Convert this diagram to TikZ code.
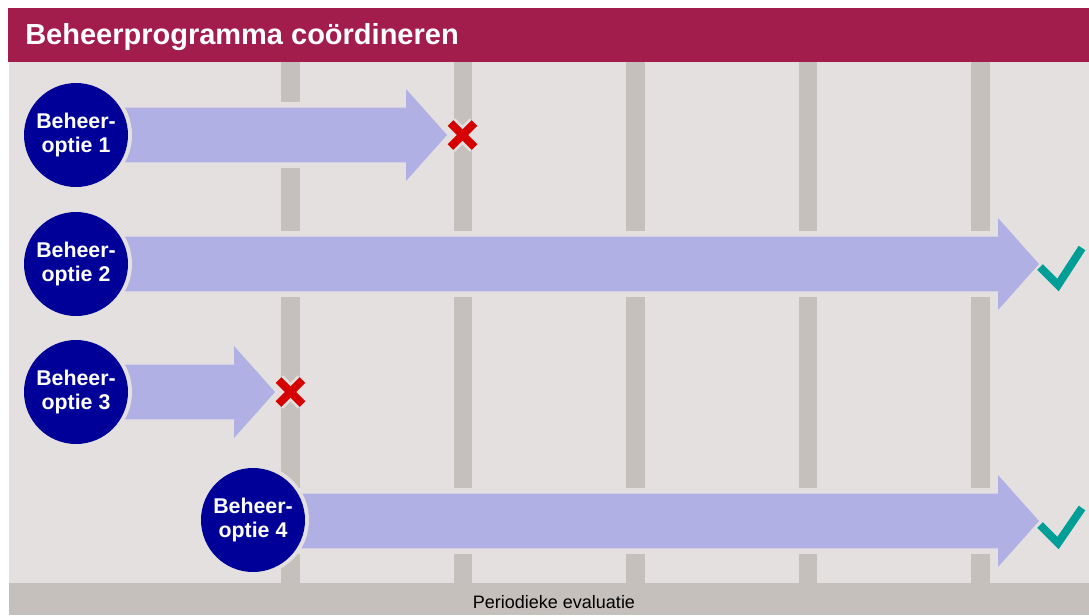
\documentclass[tikz,border=0pt]{standalone}
\usepackage{fontspec}
\setmainfont{Liberation Sans}
\usetikzlibrary{shapes,positioning,calc}

\definecolor{hdrred}{HTML}{A21D4C}
\definecolor{bggray}{HTML}{E4E0DF}
\definecolor{colgray}{HTML}{C5C0BC}
\definecolor{arrowlav}{HTML}{B0B0E5}
\definecolor{optblue}{HTML}{000099}
\definecolor{stopred}{HTML}{D60000}
\definecolor{okteal}{HTML}{009E96}

\tikzset{
    optcircle/.style={circle, fill=optblue, minimum size=78pt, inner sep=0pt, text=white, align=center,
        font=\bfseries\fontsize{16}{18}\selectfont, preaction={draw=bggray, line width=6pt}},
    optarrow/.style={fill=arrowlav, preaction={draw=bggray, line width=8pt}},
    column/.style={fill=colgray},
    stopmark/.style={cross out, draw=stopred, line width=6pt, minimum size=12pt, inner sep=0pt,
        preaction={draw=bggray, line width=10pt}},
    okmark/.style={draw=okteal, line width=6pt}
}

\begin{document}
\begin{tikzpicture}[x=0.75pt, y=-0.75pt]
    \useasboundingbox (0,0) rectangle (1089,615);
    \fill[white] (0,0) rectangle (1089,615);

    % header, background, footer
    \fill[hdrred] (8,8) rectangle (1089,62);
    \fill[bggray] (9,62) rectangle (1089,583);
    \fill[colgray] (9,583) rectangle (1089,615);
    \node (title) [anchor=base west, inner sep=0pt, text=white, font=\bfseries\fontsize{21.75}{25}\selectfont] at (25,44) {Beheerprogramma coördineren};
    \node (eval) [anchor=base, inner sep=0pt, font=\fontsize{13.5}{16}\selectfont] at (554,608) {Periodieke evaluatie};

    % evaluation moments
    \fill[column] (281,62) rectangle (299.5,583);
    \fill[column] (453.5,62) rectangle (472,583);
    \fill[column] (626,62) rectangle (644.5,583);
    \fill[column] (798.5,62) rectangle (817,583);
    \fill[column] (971,62) rectangle (989.5,583);

    % options
    \coordinate (tip1) at (447,135);
    \coordinate (tip2) at (1039,264);
    \coordinate (tip3) at (275,392);
    \coordinate (tip4) at (1039,521);
    \coordinate (opt1c) at (76,135);
    \coordinate (opt2c) at (76,264);
    \coordinate (opt3c) at (76,392);
    \coordinate (opt4c) at (253,520);

    \path[optarrow] let \p1=(opt1c), \p2=(tip1) in (\x1,\y2+20.6pt) -- (\x2-30.75pt,\y2+20.6pt) -- (\x2-30.75pt,\y2+34.5pt) -- (\p2) -- (\x2-30.75pt,\y2-34.5pt) -- (\x2-30.75pt,\y2-20.6pt) -- (\x1,\y2-20.6pt) -- cycle;
    \path[optarrow] let \p1=(opt2c), \p2=(tip2) in (\x1,\y2+20.6pt) -- (\x2-30.75pt,\y2+20.6pt) -- (\x2-30.75pt,\y2+34.5pt) -- (\p2) -- (\x2-30.75pt,\y2-34.5pt) -- (\x2-30.75pt,\y2-20.6pt) -- (\x1,\y2-20.6pt) -- cycle;
    \path[optarrow] let \p1=(opt3c), \p2=(tip3) in (\x1,\y2+20.6pt) -- (\x2-30.75pt,\y2+20.6pt) -- (\x2-30.75pt,\y2+34.5pt) -- (\p2) -- (\x2-30.75pt,\y2-34.5pt) -- (\x2-30.75pt,\y2-20.6pt) -- (\x1,\y2-20.6pt) -- cycle;
    \path[optarrow] let \p1=(opt4c), \p2=(tip4) in (\x1,\y2+20.6pt) -- (\x2-30.75pt,\y2+20.6pt) -- (\x2-30.75pt,\y2+34.5pt) -- (\p2) -- (\x2-30.75pt,\y2-34.5pt) -- (\x2-30.75pt,\y2-20.6pt) -- (\x1,\y2-20.6pt) -- cycle;

    \node (opt1) [optcircle] at (opt1c) {Beheer-\\optie 1};
    \node (opt2) [optcircle] at (opt2c) {Beheer-\\optie 2};
    \node (opt3) [optcircle] at (opt3c) {Beheer-\\optie 3};
    \node (opt4) [optcircle] at (opt4c) {Beheer-\\optie 4};

    % outcomes
    \node (stop1) [stopmark] at (462.5,135) {};
    \node (stop3) [stopmark] at (290.5,392) {};
    \coordinate (ok2) at (1040,267);
    \coordinate (ok4) at (1040,525);
    \draw[okmark] (ok2) -- ++(18,18) -- ++(24,-37);
    \draw[okmark] (ok4) -- ++(18,18) -- ++(24,-35);

\end{tikzpicture}
\end{document}
